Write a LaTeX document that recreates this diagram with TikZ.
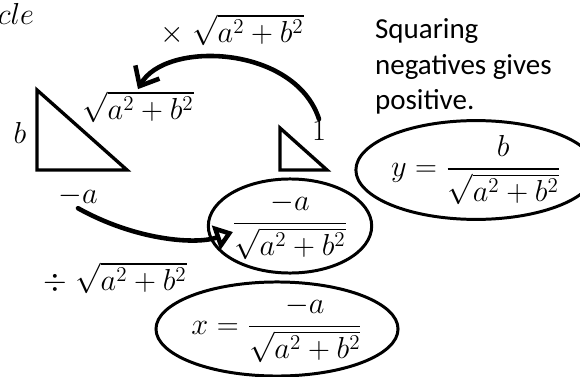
\documentclass[tikz,border=0pt]{standalone}
\usepackage[no-math]{fontspec}
\usepackage{amsmath}
\usepackage{tikz}
\usetikzlibrary{arrows.meta,positioning,shapes.geometric}
\newfontfamily\notefont{Carlito}
\newcommand{\hyp}{\sqrt{a^2+b^2}}
\tikzset{
  lbl/.style={font=\fontsize{16.5}{20}\selectfont, inner sep=1pt},
  tri/.style={line width=1.9pt, line join=miter},
  loop/.style={draw, ellipse, line width=1.7pt, inner sep=0pt, font=\fontsize{16.5}{20}\selectfont},
  swing/.style={line width=2.6pt, line cap=round},
}
\begin{document}
\begin{tikzpicture}[x=0.2mm, y=-0.2mm]
  \useasboundingbox (0,0) rectangle (580,376);
  \node[lbl] (cle) at (16,14) {$cle$};
  % big triangle
  \draw[tri] (37,90) -- (37,170) -- (127,170) -- cycle;
  \node[lbl] (bside) at (20,133) {$b$};
  \node[lbl] (hypo) at (138,107) {$\hyp$};
  \node[lbl] (nega) at (78,196) {$-a$};
  % unit triangle
  \draw[tri] (280,128) -- (280,170) -- (327,170) -- cycle;
  \node[lbl] (one) at (319,131) {$1$};
  \node[lbl] (mul) at (232,30) {$\times\;\hyp$};
  \node[lbl] (divi) at (115,278) {$\div\;\hyp$};
  % ringed results
  \node[loop, minimum width=3.08cm, minimum height=1.84cm] (mid) at (290,226) {$\dfrac{-a}{\hyp}$};
  \node[loop, minimum width=4.16cm, minimum height=1.8cm] (xval) at (277,329) {$x=\dfrac{-a}{\hyp}$};
  \node[loop, minimum width=4.08cm, minimum height=1.9cm] (yval) at (476,170) {$y=\dfrac{b}{\hyp}$};
  \node[lbl, anchor=base west, align=left, font=\notefont\fontsize{16.5}{20.4}\selectfont] (note) at (373,110) {Squaring\\negatives gives\\positive.};
  \coordinate (midtip) at (233,232);
  \draw[swing, -{Straight Barb[length=3.2mm,width=5.5mm]}] (one.north) .. controls (295,45) and (165,40) .. (hypo.north);
  \draw[swing, -{Triangle[open,length=3.6mm,width=5mm]}] (nega.south) .. controls (135,240) and (195,245) .. (midtip);
\end{tikzpicture}
\end{document}
